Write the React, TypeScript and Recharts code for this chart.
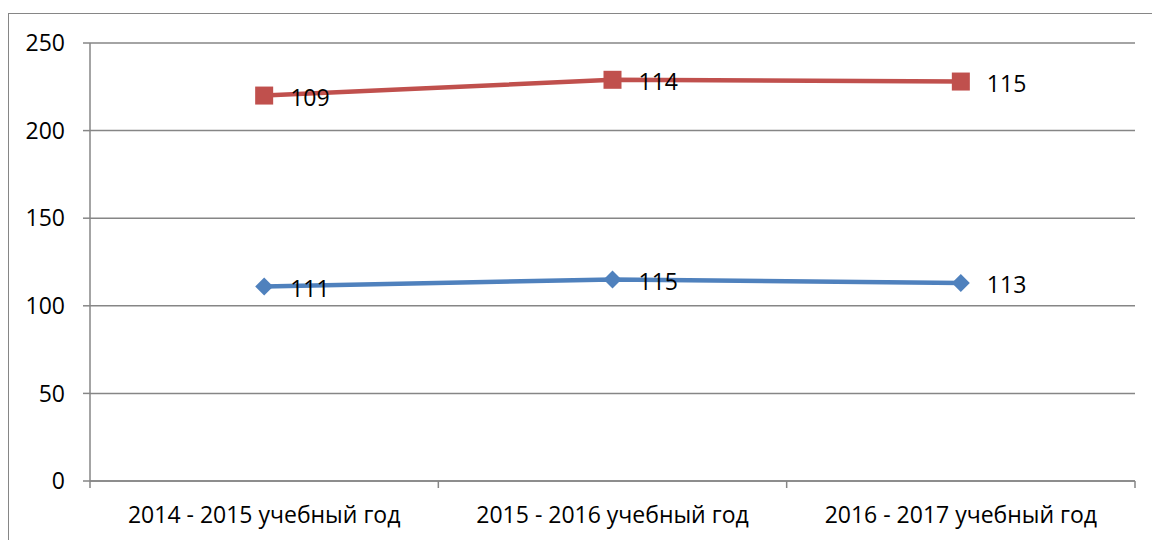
import { CartesianGrid, LabelList, Line, LineChart, XAxis, YAxis } from "recharts";

const YEARS = ["2014 - 2015 учебный год", "2015 - 2016 учебный год", "2016 - 2017 учебный год"];
const BLUE_VALUES = [111, 115, 113];
const RED_VALUES = [109, 114, 115];
const Y_TICKS = [0, 50, 100, 150, 200, 250];

const WIDTH = 1152;
const HEIGHT = 540;
const MARGIN = { top: 43, right: 17, left: 0, bottom: 0 };
const Y_AXIS_WIDTH = 90;
const HALF_BAND = (WIDTH - MARGIN.right - Y_AXIS_WIDTH) / YEARS.length / 2;

const GRID = "#868686";
const BLUE = "#4F81BD";
const RED = "#C0504D";
const FONT = "'Open Sans', 'Noto Sans', sans-serif";
const FONT_SIZE = 23;

// red series is stacked on top of blue, labels keep the series' own values
const rows = YEARS.map((year, i) => ({
  year,
  blue: BLUE_VALUES[i],
  red: BLUE_VALUES[i] + RED_VALUES[i],
  redOwn: RED_VALUES[i],
}));

function YearTick(props: any) {
  const { x, y, payload, index } = props;
  const last = index === YEARS.length - 1;
  return (
    <g>
      <line x1={x - HALF_BAND} x2={x - HALF_BAND} y1={y - 8} y2={y - 1} stroke={GRID} strokeWidth={1.5} />
      {last ? (
        <line x1={x + HALF_BAND} x2={x + HALF_BAND} y1={y - 8} y2={y - 1} stroke={GRID} strokeWidth={1.5} />
      ) : null}
      <text x={x} y={y + 34} textAnchor="middle" fill="#000" fontSize={FONT_SIZE} fontFamily={FONT}>
        {payload.value}
      </text>
    </g>
  );
}

function Diamond(props: any) {
  const { cx, cy } = props;
  if (cx == null || cy == null) return null;
  const r = 9;
  return <path d={`M${cx - r},${cy} L${cx},${cy - r} L${cx + r},${cy} L${cx},${cy + r} Z`} fill={BLUE} />;
}

function Square(props: any) {
  const { cx, cy } = props;
  if (cx == null || cy == null) return null;
  const s = 9;
  return <rect x={cx - s} y={cy - s} width={s * 2} height={s * 2} fill={RED} />;
}

function PointLabel(props: any) {
  const { x, y, value } = props;
  return (
    <text x={x + 26} y={y + 10} fill="#000" fontSize={FONT_SIZE} fontFamily={FONT}>
      {value}
    </text>
  );
}

export default function App() {
  return (
    <div
      style={{
        position: "absolute",
        left: 0,
        top: 0,
        width: WIDTH,
        height: HEIGHT,
        overflow: "hidden",
        background: "#fff",
      }}
    >
      <div
        style={{
          position: "absolute",
          left: 8,
          top: 13,
          width: WIDTH + 20,
          height: HEIGHT + 20,
          borderLeft: `1.5px solid ${GRID}`,
          borderTop: `1.5px solid ${GRID}`,
        }}
      />
      <div style={{ position: "absolute", left: 0, top: 0 }}>
        <LineChart width={WIDTH} height={HEIGHT} data={rows} margin={MARGIN}>
          <CartesianGrid vertical={false} stroke={GRID} strokeWidth={1.5} />
          <XAxis
            dataKey="year"
            scale="band"
            height={59}
            axisLine={{ stroke: GRID, strokeWidth: 1.5 }}
            tickLine={false}
            tick={<YearTick />}
            interval={0}
          />
          <YAxis
            width={Y_AXIS_WIDTH}
            domain={[0, 250]}
            ticks={Y_TICKS}
            axisLine={{ stroke: GRID, strokeWidth: 1.5 }}
            tickLine={{ stroke: GRID, strokeWidth: 1.5 }}
            tickSize={7}
            tickMargin={18}
            tick={{ fill: "#000", fontSize: FONT_SIZE, fontFamily: FONT }}
          />
          <Line
            dataKey="blue"
            stroke={BLUE}
            strokeWidth={4.5}
            dot={<Diamond />}
            activeDot={false}
            isAnimationActive={false}
          >
            <LabelList dataKey="blue" content={<PointLabel />} />
          </Line>
          <Line
            dataKey="red"
            stroke={RED}
            strokeWidth={4.5}
            dot={<Square />}
            activeDot={false}
            isAnimationActive={false}
          >
            <LabelList dataKey="redOwn" content={<PointLabel />} />
          </Line>
        </LineChart>
      </div>
    </div>
  );
}
